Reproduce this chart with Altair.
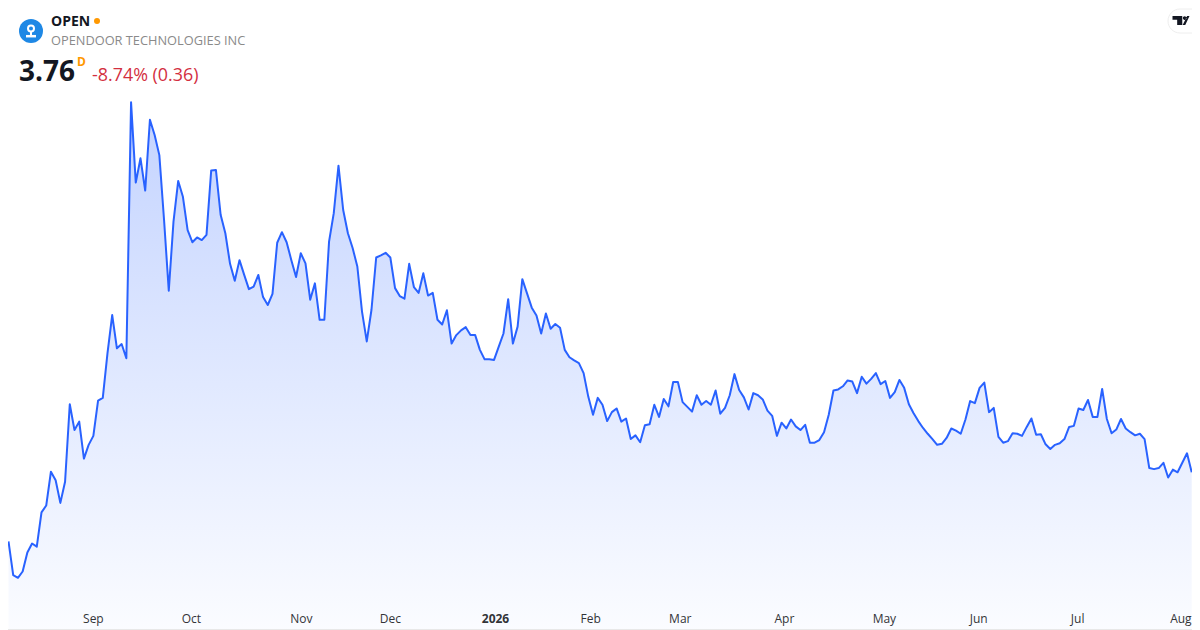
import json
import altair as alt
import pandas as pd

ticker = "OPEN"
company = "OPENDOOR TECHNOLOGIES INC"
last_price = "3.76"
interval = "D"
change = "-8.74% (0.36)"

tick_index = [17.9, 38.7, 62, 80.9, 103.2, 123.4, 142.4, 164.5, 185.7, 205.7, 226.7, 248.6]
tick_labels = ["Sep", "Oct", "Nov", "Dec", "2026", "Feb", "Mar", "Apr", "May", "Jun", "Jul", "Aug"]

close = [
    2.45, 1.81, 1.76, 1.88, 2.24, 2.41, 2.35, 3.00, 3.13, 3.77, 3.61, 3.18, 3.58, 5.05, 4.56, 4.72,
    4.02, 4.28, 4.45, 5.12, 5.17, 6.02, 6.74, 6.11, 6.19, 5.92, 10.77, 9.25, 9.71, 9.10, 10.44, 10.15,
    9.77, 8.54, 7.20, 8.51, 9.28, 8.98, 8.35, 8.12, 8.21, 8.16, 8.26, 9.48, 9.49, 8.64, 8.29, 7.71,
    7.39, 7.78, 7.50, 7.23, 7.28, 7.50, 7.08, 6.93, 7.14, 8.11, 8.31, 8.12, 7.78, 7.46, 7.91, 7.72,
    7.03, 7.34, 6.65, 6.65, 8.13, 8.67, 9.57, 8.73, 8.29, 8.01, 7.66, 6.80, 6.24, 6.84, 7.83, 7.87,
    7.92, 7.83, 7.25, 7.10, 7.05, 7.71, 7.27, 7.16, 7.53, 7.11, 7.16, 6.65, 6.56, 6.83, 6.20, 6.36,
    6.45, 6.51, 6.36, 6.36, 6.08, 5.90, 5.90, 5.89, 6.14, 6.39, 7.04, 6.20, 6.52, 7.42, 7.15, 6.88,
    6.73, 6.39, 6.77, 6.48, 6.57, 6.50, 6.08, 5.94, 5.88, 5.83, 5.64, 5.19, 4.85, 5.17, 5.04, 4.73,
    4.90, 4.97, 4.72, 4.78, 4.39, 4.46, 4.33, 4.65, 4.67, 5.04, 4.81, 5.15, 5.01, 5.47, 5.47, 5.09,
    5.00, 4.91, 5.22, 5.04, 5.11, 5.04, 5.31, 4.87, 4.98, 5.22, 5.62, 5.32, 5.18, 4.95, 5.26, 5.22,
    5.14, 4.93, 4.83, 4.45, 4.70, 4.59, 4.76, 4.63, 4.56, 4.66, 4.32, 4.32, 4.37, 4.52, 4.85, 5.31,
    5.33, 5.39, 5.50, 5.48, 5.26, 5.57, 5.44, 5.53, 5.64, 5.43, 5.49, 5.17, 5.28, 5.51, 5.36, 5.05,
    4.88, 4.73, 4.60, 4.49, 4.39, 4.28, 4.30, 4.41, 4.59, 4.55, 4.49, 4.76, 5.11, 5.07, 5.36, 5.46,
    4.90, 4.98, 4.43, 4.32, 4.35, 4.50, 4.49, 4.45, 4.62, 4.78, 4.47, 4.48, 4.29, 4.20, 4.28, 4.31,
    4.39, 4.62, 4.64, 4.97, 4.94, 5.13, 4.81, 4.81, 5.34, 4.77, 4.50, 4.57, 4.77, 4.59, 4.52, 4.46,
    4.49, 4.39, 3.84, 3.82, 3.84, 3.94, 3.66, 3.81, 3.76, 3.94, 4.12, 3.76,
]

FONT = "Open Sans"
W, H = 1184, 592
df = pd.DataFrame({"i": range(len(close)), "close": close})

x_scale = alt.Scale(domain=[-0.106, 251.06], nice=False, zero=False)
y_scale = alt.Scale(domain=[1.34, 12.558], nice=False, zero=False)
label_map = json.dumps({str(k): v for k, v in zip(tick_index, tick_labels)})
x_axis = alt.Axis(
    values=tick_index, labelExpr=f"{label_map}[datum.value]", title=None, grid=False, domain=False,
    ticks=False, labelFont=FONT, labelFontSize=12, labelColor="#333333", labelPadding=13,
    labelOverlap=False, labelFlush=False, labelAngle=0,
    labelFontWeight={"condition": {"test": "datum.value == 103.2", "value": 700}, "value": 400},
)
y_axis = alt.Axis(title=None, grid=False, domain=False, ticks=False, labels=False)

gradient = alt.Gradient(
    gradient="linear",
    stops=[alt.GradientStop(color="rgba(41,98,255,0.28)", offset=0),
           alt.GradientStop(color="rgba(41,98,255,0)", offset=1)],
    x1=0, x2=0, y1=0, y2=1,
)
base = alt.Chart(df)
area = base.mark_area(color=gradient, line=False).encode(
    x=alt.X("i:Q", scale=x_scale, axis=x_axis),
    y=alt.Y("close:Q", scale=y_scale, axis=y_axis),
)
line = base.mark_line(color="#2962FF", strokeWidth=2, strokeJoin="round").encode(
    x=alt.X("i:Q", scale=x_scale, axis=x_axis),
    y=alt.Y("close:Q", scale=y_scale, axis=y_axis),
)

one = alt.Data(values=[{"k": 0}])


def label(text, px, py, size, color, weight=400):
    return alt.Chart(one).mark_text(
        align="left", baseline="alphabetic", font=FONT, fontSize=size, color=color, fontWeight=weight
    ).encode(x=alt.value(px - 8), y=alt.value(py - 8), text=alt.value(text))


def dot(px, py, d, fill):
    return alt.Chart(one).mark_point(filled=True, color=fill, size=d * d, opacity=1, shape="circle").encode(
        x=alt.value(px - 8), y=alt.value(py - 8)
    )


logo_ring = alt.Chart(one).mark_point(filled=False, color="white", size=36, strokeWidth=2, opacity=1).encode(
    x=alt.value(31 - 8), y=alt.value(28.5 - 8)
)
logo_bar = alt.Chart(one).mark_rule(color="white", strokeWidth=2.5).encode(
    x=alt.value(26 - 8), x2=alt.value(36 - 8), y=alt.value(36.2 - 8)
)
logo_stem = alt.Chart(one).mark_rule(color="white", strokeWidth=2).encode(
    x=alt.value(31 - 8), y=alt.value(32 - 8), y2=alt.value(35 - 8)
)
pill = alt.Chart(one).mark_rect(
    fill="white", stroke="#eeeeee", strokeWidth=1, cornerRadiusTopLeft=12, cornerRadiusBottomLeft=12
).encode(x=alt.value(1168 - 8), x2=alt.value(1205 - 8), y=alt.value(9 - 8), y2=alt.value(33 - 8))
tv_mark = alt.Chart(one).mark_point(
    filled=True, color="#131722", opacity=1, size=289,
    shape="M-1 -0.53H0.15V0.53H-0.45V-0.1H-1ZM0.72 -0.53H1L0.5 0.53H0.2ZM0.22 -0.28a0.21 0.21 0 1 0 0.42 0a0.21 0.21 0 1 0 -0.42 0Z",
).encode(x=alt.value(1181 - 8), y=alt.value(20.5 - 8))
edge_bottom = alt.Chart(one).mark_rule(color="#e8e8e8").encode(
    x=alt.value(0), x2=alt.value(W), y=alt.value(629.5 - 8)
)

chart = alt.layer(
    area, line,
    dot(31, 31, 24, "#1E88E5"), logo_ring, logo_bar, logo_stem,
    label(ticker, 51, 26, 14, "#131722", 700),
    dot(97, 21, 6, "#FF9800"),
    label(company, 51, 45, 12.8, "#8a8a8a"),
    label(last_price, 19, 81, 28, "#131722", 700),
    label(interval, 77, 66, 12, "#FF9800", 700),
    label(change, 92, 81, 17.9, "#D32F3F"),
    pill, tv_mark, edge_bottom,
).properties(
    width=W, height=H,
    autosize=alt.AutoSizeParams(type="none"),
    padding={"left": 0, "top": 0, "right": 0, "bottom": 30},
    background="white",
).configure_view(strokeWidth=0)

chart.save("out.html", embed_options={"renderer": "svg", "actions": False})
